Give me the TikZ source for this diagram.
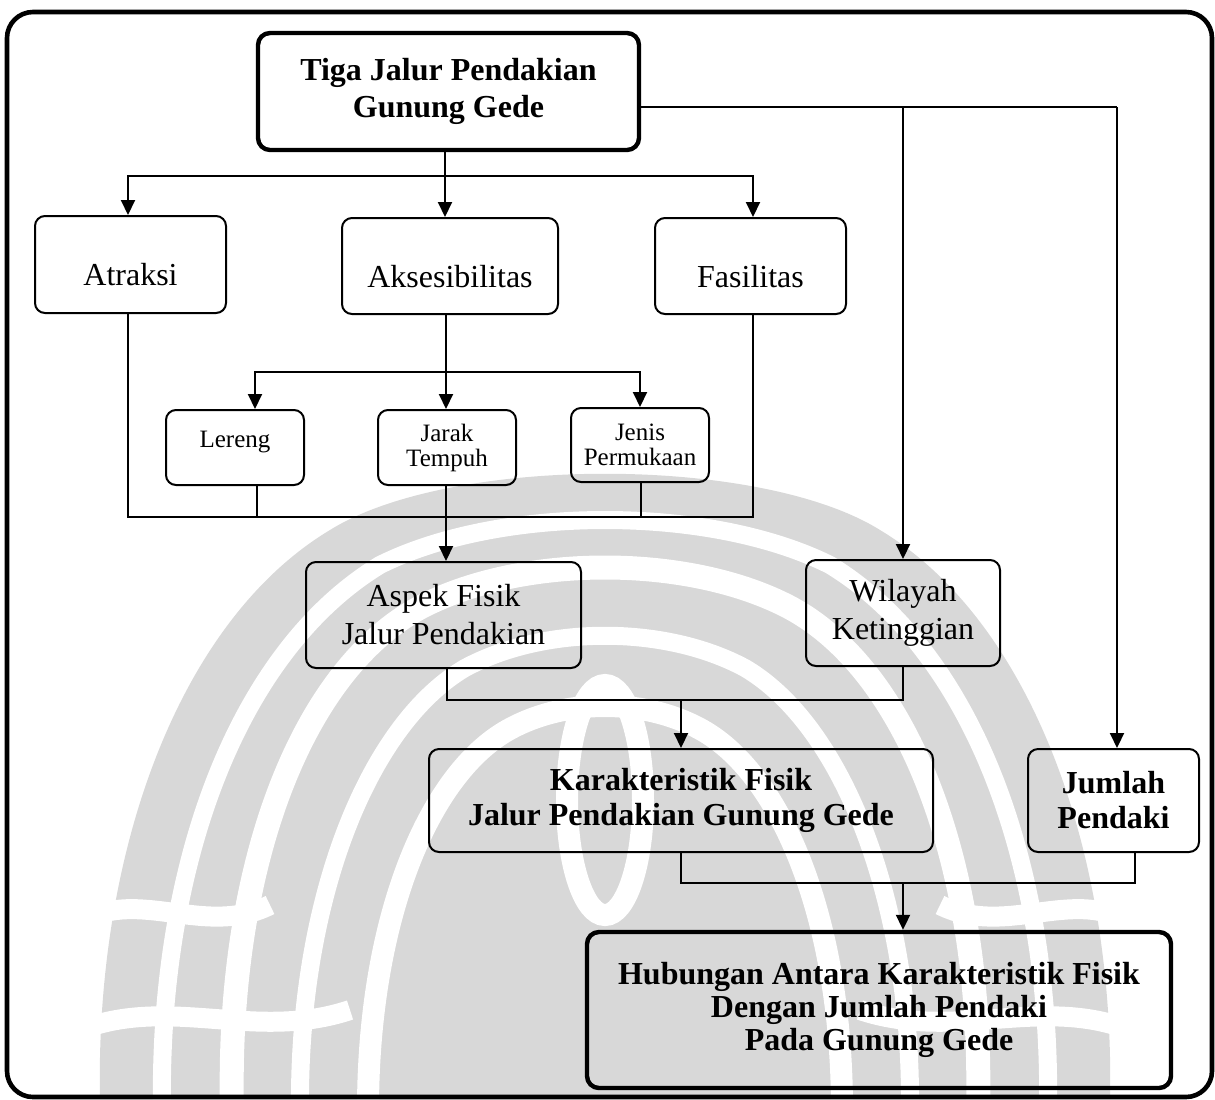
\documentclass[tikz,border=0pt]{standalone}
\usepackage{fontspec}
\setmainfont{Liberation Serif}
\usetikzlibrary{arrows.meta,calc}
\definecolor{wmgray}{RGB}{216,216,216}
\begin{document}
\begin{tikzpicture}[x=0.5pt,y=-0.5pt,
  box/.style={draw, rounded corners=5pt, line width=1pt, inner sep=0pt,
    font=\fontsize{16}{19}\selectfont},
  smallbox/.style={box, font=\fontsize{12.5}{12.5}\selectfont},
  boldbox/.style={box, font=\bfseries\fontsize{16}{17.5}\selectfont},
  heavybox/.style={box, line width=2.2pt, rounded corners=6pt},
  conn/.style={line width=1pt},
  arr/.style={conn, -{Triangle[length=7.5pt,width=7pt]}},
  gap/.style={white, line width=#1},
  gap/.default=10pt]
\useasboundingbox (0,0) rectangle (1215,1099);

% faint emblem in the background
\begin{scope}
  \fill[wmgray] (100,1099) .. controls (95,850) and (180,620) .. (330,530)
    .. controls (450,455) and (760,455) .. (880,530)
    .. controls (1030,620) and (1115,850) .. (1110,1099) -- cycle;
  \draw[gap=9pt] (162,1110) .. controls (158,860) and (240,650) .. (380,565)
    .. controls (500,505) and (710,505) .. (830,565)
    .. controls (970,650) and (1052,860) .. (1048,1110);
  \draw[gap=12pt] (232,1110) .. controls (226,860) and (305,665) .. (425,605)
    .. controls (525,555) and (685,555) .. (785,605)
    .. controls (905,665) and (984,860) .. (978,1110);
  \draw[gap=9pt] (300,1110) .. controls (298,900) and (368,725) .. (465,668)
    .. controls (545,625) and (665,625) .. (745,668)
    .. controls (842,725) and (912,900) .. (910,1110);
  \draw[gap=11pt] (368,1110) .. controls (368,920) and (428,775) .. (508,730)
    .. controls (565,698) and (645,698) .. (702,730)
    .. controls (782,775) and (842,920) .. (842,1110);
  \draw[gap=11pt] (605,800) ellipse [x radius=38, y radius=115];
  \draw[gap] (95,915) .. controls (150,895) and (210,935) .. (270,905);
  \draw[gap] (1115,915) .. controls (1060,895) and (1000,935) .. (940,905);
  \draw[gap] (95,1025) .. controls (180,1000) and (260,1040) .. (350,1010);
  \draw[gap] (1115,1025) .. controls (1030,1000) and (950,1040) .. (860,1010);
\end{scope}

% outer frame
\draw[line width=2.3pt, rounded corners=13pt] (7,12) rectangle (1212,1097);

% boxes
\node[box, heavybox, font=\bfseries\fontsize{16}{18.5}\selectfont, align=center,
  minimum width=190.5pt, minimum height=58.5pt] (top) at (448.5,91.5)
  {Tiga Jalur Pendakian\\Gunung Gede};
\node[box, minimum width=95.5pt, minimum height=48.5pt, text height=20.5pt, text depth=0pt]
  (atr) at (130.5,264.5) {Atraksi};
\node[box, minimum width=108pt, minimum height=48pt, text height=21pt, text depth=0pt]
  (akses) at (450,266) {Aksesibilitas};
\node[box, minimum width=95.5pt, minimum height=48pt, text height=21pt, text depth=0pt]
  (fas) at (750.5,266) {Fasilitas};
\node[smallbox, minimum width=69pt, minimum height=37.5pt, text height=4pt, text depth=4pt]
  (ler) at (235,447.5) {Lereng};
\node[smallbox, align=center, minimum width=69pt, minimum height=37.5pt]
  (jar) at (447,447.5) {Jarak\\Tempuh};
\node[smallbox, align=center, minimum width=69pt, minimum height=37pt]
  (jen) at (640,445) {Jenis\\Permukaan};
\node[box, align=center, minimum width=137.5pt, minimum height=53pt]
  (asp) at (443.5,615) {Aspek Fisik\\Jalur Pendakian};
\node[box, align=center, minimum width=97pt, minimum height=53pt]
  (wil) at (903,613) {Wilayah\\Ketinggian};
\node[boldbox, align=center, minimum width=252pt, minimum height=51.5pt]
  (kar) at (681,800.5) {Karakteristik Fisik\\Jalur Pendakian Gunung Gede};
\node[boldbox, align=center, minimum width=85.5pt, minimum height=51.5pt]
  (jum) at (1113.5,800.5) {Jumlah\\Pendaki};
\node[box, heavybox, font=\bfseries\fontsize{16}{16.5}\selectfont, align=center,
  minimum width=292pt, minimum height=78pt] (hub) at (879,1010)
  {Hubungan Antara Karakteristik Fisik\\Dengan Jumlah Pendaki\\Pada Gunung Gede};

% junction points
\coordinate (b1) at (445,176);
\coordinate (b2) at (446,372);
\coordinate (lx) at (255,372);
\coordinate (gl) at (128,517);
\coordinate (gr) at (753,517);
\coordinate (glr) at (257,517);
\coordinate (gjn) at (641,517);
\coordinate (r0) at (639,107);
\coordinate (rw) at (903,107);
\coordinate (rj) at (1117,107);
\coordinate (g2l) at (447,700);
\coordinate (g2) at (681,700);
\coordinate (g3) at (903,883);
\coordinate (g3r) at (1135,883);

% first level
\draw[arr] (top.south -| b1) -- (akses.north -| b1);
\draw[arr] (b1) -| (atr.north -| gl);
\draw[arr] (b1) -| (fas.north -| gr);

% right branch
\draw[conn] (r0) -- (rj);
\draw[arr] (rw) -- (wil.north);
\draw[arr] (rj) -- (jum.north -| rj);

% sub-branch of Aksesibilitas
\draw[arr] (akses.south -| b2) -- (jar.north -| b2);
\draw[arr] (b2) -| (ler.north -| lx);
\draw[arr] (b2) -| (jen.north);

% gathering into Aspek Fisik
\draw[conn] (atr.south -| gl) -- (gl) -- (gr) -- (fas.south -| gr);
\draw[conn] (ler.south -| glr) -- (glr);
\draw[conn] (jen.south -| gjn) -- (gjn);
\draw[arr] (jar.south -| b2) -- (asp.north -| b2);

% gathering into Karakteristik Fisik
\draw[conn] (asp.south -| g2l) -- (g2l) -- (wil.south |- g2l) -- (wil.south);
\draw[arr] (g2) -- (kar.north);

% gathering into Hubungan
\draw[conn] (kar.south) -- (kar.south |- g3r) -- (g3r) -- (jum.south -| g3r);
\draw[arr] (g3) -- (hub.north -| g3);
\end{tikzpicture}
\end{document}
